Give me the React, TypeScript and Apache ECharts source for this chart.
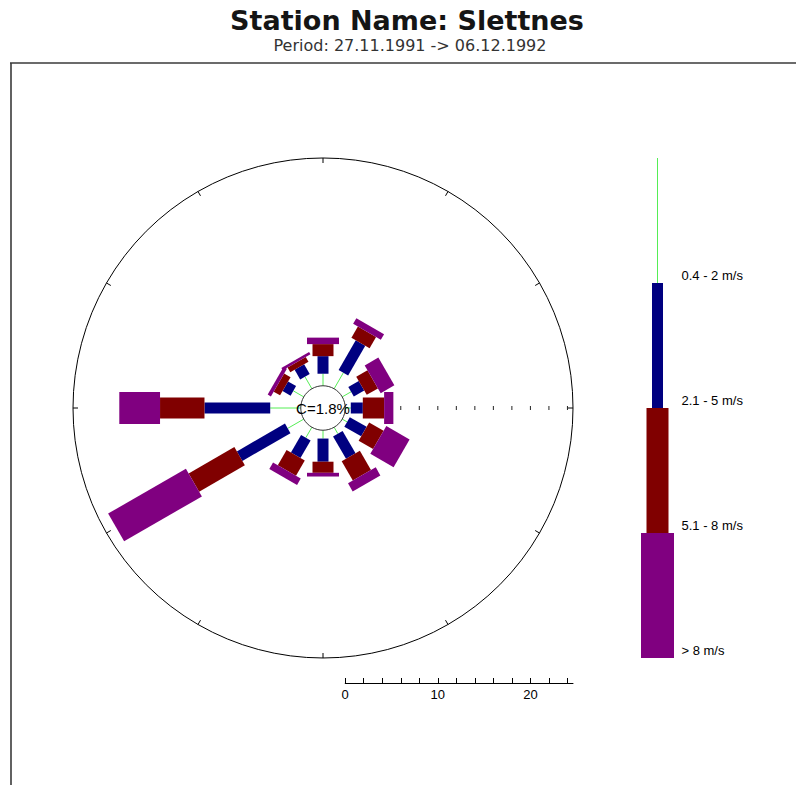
import React, { useEffect, useRef } from "react";
import * as echarts from "echarts";

// Wind rose for Slettnes: 12 direction sectors, four speed classes (percent of observations)
const directions = [0, 30, 60, 90, 120, 150, 180, 210, 240, 270, 300, 330];
const speedClasses = ["0.4 - 2 m/s", "2.1 - 5 m/s", "5.1 - 8 m/s", "> 8 m/s"];
const lightWind = [1.3, 2.0, 1.1, 0.6, 0.6, 0.8, 0.9, 1.3, 2.0, 3.3, 1.3, 1.5];
const moderateWind = [1.9, 3.7, 1.3, 1.3, 2.1, 2.8, 2.5, 2.2, 6.0, 7.1, 1.0, 1.2];
const freshWind = [1.3, 1.4, 1.4, 2.3, 1.8, 2.4, 1.2, 1.9, 5.7, 4.8, 0.8, 0.6];
const strongWind = [0.7, 0.7, 1.7, 1.0, 2.9, 1.0, 0.4, 0.8, 9.7, 4.4, 0.4, 0.3];
const calmPct = 1.8;
const radialTicks = [2, 4, 6, 8, 10, 12, 14, 16, 18, 20, 22, 24];
const scaleTicks = [0, 2, 4, 6, 8, 10, 12, 14, 16, 18, 20, 22, 24];
const scaleLabels = [0, 10, 20];

const titleText = "Station Name: Slettnes";
const periodText = "Period: 27.11.1991 -> 06.12.1992";

// geometry (axis units = percent)
const CALM_R = 2.4;
const OUTER_R = 27;
const ROSE_LEFT = 73;
const ROSE_TOP = 158;
const ROSE_SIZE = 500;
const PX_PER_UNIT = ROSE_SIZE / (2 * OUTER_R);

const classColors = ["#55ee55", "#000080", "#800000", "#800080"];
const classWidths = [1, 11, 21, 32];
const legendWidths = [1, 11, 22, 33];

const labelFont = "Liberation Sans, Arial, sans-serif";

export default function App() {
  const ref = useRef<HTMLDivElement>(null);

  useEffect(() => {
    if (!ref.current) return;
    const chart = echarts.init(ref.current, null, { renderer: "svg" });
    const classSeries = [lightWind, moderateWind, freshWind, strongWind];

    const option: any = {
      animation: false,
      backgroundColor: "#ffffff",
      grid: [
        { left: ROSE_LEFT, top: ROSE_TOP, width: ROSE_SIZE, height: ROSE_SIZE },
        { left: 641, top: 158, width: 33, height: 500 },
        {
          left: ROSE_LEFT + ROSE_SIZE / 2 + CALM_R * PX_PER_UNIT,
          top: 600,
          width: (OUTER_R - CALM_R) * PX_PER_UNIT,
          height: 83,
        },
      ],
      xAxis: [
        { gridIndex: 0, type: "value", min: -OUTER_R, max: OUTER_R, show: false },
        { gridIndex: 1, type: "value", min: -1, max: 1, show: false },
        {
          gridIndex: 2,
          type: "value",
          min: 0,
          max: OUTER_R - CALM_R,
          position: "bottom",
          splitLine: { show: false },
          axisLine: { show: true, lineStyle: { color: "#000", width: 1 } },
          axisTick: {
            show: true,
            inside: true,
            length: 5,
            customValues: scaleTicks,
            lineStyle: { color: "#000", width: 1 },
          },
          axisLabel: {
            show: true,
            customValues: scaleLabels,
            color: "#000",
            fontSize: 13,
            fontFamily: labelFont,
            margin: 5,
          },
        },
      ],
      yAxis: [
        { gridIndex: 0, type: "value", min: -OUTER_R, max: OUTER_R, show: false },
        { gridIndex: 1, type: "value", min: 0, max: 4, inverse: true, show: false },
        { gridIndex: 2, type: "value", min: 0, max: 1, show: false },
      ],
      graphic: [
        {
          type: "line",
          shape: { x1: 10, y1: 63, x2: 796, y2: 63 },
          style: { stroke: "#3a3a3a", lineWidth: 1.6 },
        },
        {
          type: "line",
          shape: { x1: 11, y1: 63, x2: 11, y2: 785 },
          style: { stroke: "#3a3a3a", lineWidth: 1.6 },
        },
        {
          type: "text",
          x: 407,
          y: 20.5,
          style: {
            text: titleText,
            textAlign: "center",
            textVerticalAlign: "middle",
            fontFamily: "DejaVu Sans",
            fontWeight: "bold",
            fontSize: 27,
            fill: "#151515",
          },
        },
        {
          type: "text",
          x: 410,
          y: 45.8,
          style: {
            text: periodText,
            textAlign: "center",
            textVerticalAlign: "middle",
            fontFamily: "DejaVu Sans",
            fontSize: 16,
            fill: "#333",
          },
        },
      ],
      series: [
        // outer ring, direction ticks and radial scale ticks
        {
          type: "custom",
          coordinateSystem: "cartesian2d",
          xAxisIndex: 0,
          yAxisIndex: 0,
          z: 1,
          silent: true,
          data: [[0]],
          renderItem: (_params: any, api: any) => {
            const c = api.coord([0, 0]);
            const R = api.coord([OUTER_R, 0])[0] - c[0];
            const children: any[] = [
              {
                type: "circle",
                shape: { cx: c[0], cy: c[1], r: R },
                style: { fill: "none", stroke: "#000", lineWidth: 1 },
              },
            ];
            directions.forEach((d) => {
              const a = (d * Math.PI) / 180;
              const sx = Math.sin(a);
              const sy = -Math.cos(a);
              children.push({
                type: "line",
                shape: {
                  x1: c[0] + sx * R,
                  y1: c[1] + sy * R,
                  x2: c[0] + sx * (R - 5),
                  y2: c[1] + sy * (R - 5),
                },
                style: { stroke: "#000", lineWidth: 1 },
              });
            });
            radialTicks.forEach((v) => {
              const p = api.coord([CALM_R + v, 0]);
              children.push({
                type: "line",
                shape: { x1: p[0], y1: p[1] - 2, x2: p[0], y2: p[1] + 2 },
                style: { stroke: "#222", lineWidth: 1 },
              });
            });
            return { type: "group", children };
          },
        },
        // stacked speed-class bars per direction
        {
          type: "custom",
          coordinateSystem: "cartesian2d",
          xAxisIndex: 0,
          yAxisIndex: 0,
          z: 2,
          silent: true,
          data: directions.map((_, i) => [i]),
          renderItem: (_params: any, api: any) => {
            const i = api.value(0);
            const a = (directions[i] * Math.PI) / 180;
            const ux = Math.sin(a);
            const uy = -Math.cos(a);
            const nx = -uy;
            const ny = ux;
            let r = CALM_R;
            const children: any[] = [];
            classSeries.forEach((vals, k) => {
              const r0 = r;
              const r1 = r + vals[i];
              r = r1;
              const p0 = api.coord([r0 * Math.sin(a), r0 * Math.cos(a)]);
              const p1 = api.coord([r1 * Math.sin(a), r1 * Math.cos(a)]);
              if (k === 0) {
                children.push({
                  type: "line",
                  shape: { x1: p0[0], y1: p0[1], x2: p1[0], y2: p1[1] },
                  style: { stroke: classColors[0], lineWidth: 1 },
                });
              } else {
                const w = classWidths[k] / 2;
                children.push({
                  type: "polygon",
                  shape: {
                    points: [
                      [p0[0] + nx * w, p0[1] + ny * w],
                      [p1[0] + nx * w, p1[1] + ny * w],
                      [p1[0] - nx * w, p1[1] - ny * w],
                      [p0[0] - nx * w, p0[1] - ny * w],
                    ],
                  },
                  style: { fill: classColors[k] },
                });
              }
            });
            return { type: "group", children };
          },
        },
        // calm circle with its percentage
        {
          type: "custom",
          coordinateSystem: "cartesian2d",
          xAxisIndex: 0,
          yAxisIndex: 0,
          z: 3,
          silent: true,
          data: [[calmPct]],
          renderItem: (_params: any, api: any) => {
            const c = api.coord([0, 0]);
            const r = api.coord([CALM_R, 0])[0] - c[0];
            return {
              type: "group",
              children: [
                {
                  type: "circle",
                  shape: { cx: c[0], cy: c[1], r },
                  style: { fill: "none", stroke: "#333", lineWidth: 1 },
                },
                {
                  type: "text",
                  x: c[0],
                  y: c[1],
                  style: {
                    text: `C=${api.value(0)}%`,
                    textAlign: "center",
                    textVerticalAlign: "middle",
                    fontFamily: labelFont,
                    fontSize: 15,
                    fill: "#000",
                  },
                },
              ],
            };
          },
        },
        // speed-class legend
        {
          type: "custom",
          coordinateSystem: "cartesian2d",
          xAxisIndex: 1,
          yAxisIndex: 1,
          z: 2,
          silent: true,
          data: speedClasses.map((_, i) => [i]),
          renderItem: (_params: any, api: any) => {
            const i = api.value(0);
            const top = api.coord([0, i]);
            const bottom = api.coord([0, i + 1]);
            const children: any[] = [];
            if (i === 0) {
              children.push({
                type: "line",
                shape: { x1: top[0], y1: top[1], x2: bottom[0], y2: bottom[1] },
                style: { stroke: classColors[0], lineWidth: 1 },
              });
            } else {
              const w = legendWidths[i];
              children.push({
                type: "rect",
                shape: { x: top[0] - w / 2, y: top[1], width: w, height: bottom[1] - top[1] },
                style: { fill: classColors[i] },
              });
            }
            children.push({
              type: "text",
              x: top[0] + 24,
              y: bottom[1] - 8,
              style: {
                text: speedClasses[i],
                textAlign: "left",
                textVerticalAlign: "middle",
                fontFamily: labelFont,
                fontSize: 13,
                fill: "#000",
              },
            });
            return { type: "group", children };
          },
        },
      ],
    };

    chart.setOption(option);
    return () => chart.dispose();
  }, []);

  return (
    <div
      ref={ref}
      style={{ position: "fixed", left: 0, top: 0, width: 796, height: 785, background: "#fff" }}
    />
  );
}
